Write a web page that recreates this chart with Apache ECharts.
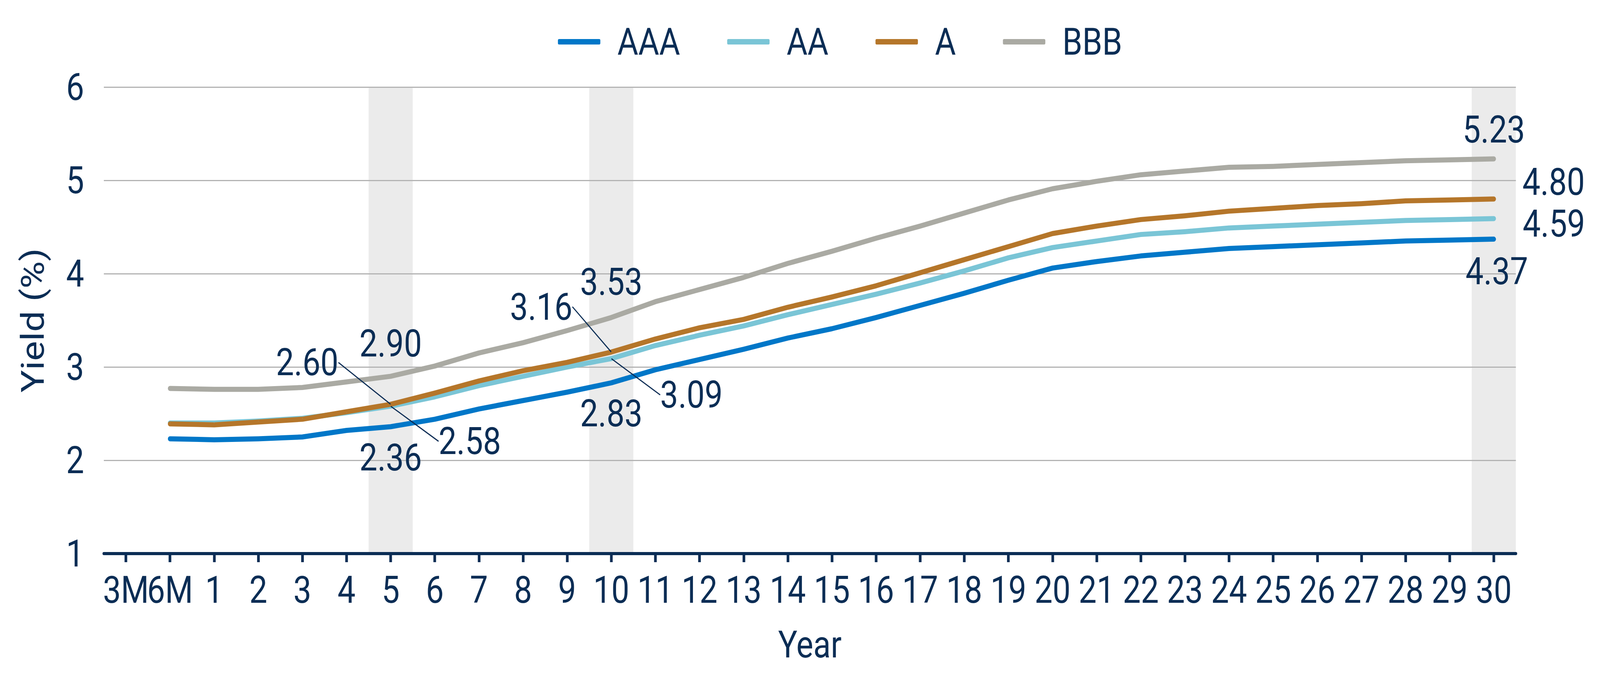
<!DOCTYPE html>
<html>
<head>
<meta charset="utf-8">
<script src="https://cdn.jsdelivr.net/npm/echarts@6/dist/echarts.min.js"></script>
<style>
html,body{margin:0;padding:0;background:#fff;overflow:hidden;}
#chart{width:4792px;height:1729px;transform-origin:0 0;}
</style>
</head>
<body>
<div id="chart"></div>
<script>
const categories = ['3M','6M','1','2','3','4','5','6','7','8','9','10','11','12','13','14','15','16','17','18','19','20','21','22','23','24','25','26','27','28','29','30'];
const seriesNames = ['AAA','AA','A','BBB'];
const aaa = [null,2.23,2.22,2.23,2.25,2.32,2.36,2.44,2.55,2.64,2.73,2.83,2.97,3.08,3.19,3.31,3.41,3.53,3.66,3.79,3.93,4.06,4.13,4.19,4.23,4.27,4.29,4.31,4.33,4.35,4.36,4.37];
const aa  = [null,2.40,2.40,2.42,2.45,2.51,2.58,2.68,2.80,2.90,3.00,3.09,3.23,3.34,3.44,3.56,3.67,3.78,3.90,4.03,4.17,4.28,4.35,4.42,4.45,4.49,4.51,4.53,4.55,4.57,4.58,4.59];
const a   = [null,2.39,2.38,2.41,2.44,2.52,2.60,2.72,2.85,2.96,3.05,3.16,3.30,3.42,3.51,3.64,3.75,3.87,4.01,4.15,4.29,4.43,4.51,4.58,4.62,4.67,4.70,4.73,4.75,4.78,4.79,4.80];
const bbb = [null,2.77,2.76,2.76,2.78,2.84,2.90,3.01,3.15,3.26,3.39,3.53,3.70,3.83,3.96,4.11,4.24,4.38,4.51,4.65,4.79,4.91,4.99,5.06,5.10,5.14,5.15,5.17,5.19,5.21,5.22,5.23];
const yTicks = [1,2,3,4,5,6];
const shadedCategories = ['5','10','30'];
const labelledCategories = ['5','10','30'];

const NAVY = '#0B2D55';
const FONT = 'Roboto';
const colors = {AAA:'#0077C8', AA:'#7AC5D6', A:'#B5762A', BBB:'#AAAAA3'};

const labelOffsets = {
  AAA: {'5':[0,79,false], '10':[0,79,false], '30':[9,83,false]},
  AA:  {'5':[237,90,true], '10':[240,93,true], '30':[180,13,false]},
  A:   {'5':[-250,-107,true], '10':[-210,-116,true], '30':[179,-44,false]},
  BBB: {'5':[0,-84,false], '10':[0,-91,false], '30':[0,-75,false]}
};

const values = {AAA:aaa, AA:aa, A:a, BBB:bbb};

function buildData(name){
  return values[name].map((v, i) => {
    const cat = categories[i];
    if (v !== null && labelledCategories.includes(cat)) {
      const off = labelOffsets[name][cat];
      return {value: v, label: {show: true}, labelLine: {show: off[2]}};
    }
    return {value: v};
  });
}

function lineSeries(name){
  return {
    name: name,
    type: 'line',
    data: buildData(name),
    color: colors[name],
    symbol: 'circle',
    symbolSize: 1,
    showSymbol: true,
    itemStyle: {color: colors[name]},
    lineStyle: {width: 13, color: colors[name], cap: 'round', join: 'round'},
    z: 3,
    label: {
      show: false,
      position: 'inside',
      color: NAVY,
      fontFamily: FONT,
      fontSize: 96,
      formatter: p => p.value.toFixed(2)
    },
    labelLine: {show: false, lineStyle: {color: NAVY, width: 3}},
    labelLayout: function(params){
      const cat = categories[params.dataIndex];
      const off = labelOffsets[name][cat];
      if (!off) return {};
      return {dx: off[0], dy: off[1]};
    },
    emphasis: {disabled: true},
    animation: false
  };
}

const bandData = categories.map(c => shadedCategories.includes(c) ? yTicks[yTicks.length-1] : null);

const option = {
  backgroundColor: '#ffffff',
  animation: false,
  textStyle: {fontFamily: FONT},
  legend: {
    data: seriesNames,
    left: 1666,
    top: 54,
    icon: 'roundRect',
    itemWidth: 127,
    itemHeight: 14,
    itemGap: 141,
    textStyle: {color: NAVY, fontFamily: FONT, fontSize: 96, padding: [0,0,0,46]}
  },
  grid: {left: 311, right: 252, top: 223, bottom: 311, outerBoundsMode: 'none'},
  xAxis: {
    type: 'category',
    data: categories,
    boundaryGap: true,
    name: 'Year',
    nameLocation: 'middle',
    nameGap: 185,
    nameTextStyle: {color: NAVY, fontFamily: FONT, fontSize: 96},
    axisLine: {show: true, lineStyle: {color: NAVY, width: 8}},
    axisTick: {show: true, alignWithLabel: true, length: 22, lineStyle: {color: NAVY, width: 8}},
    axisLabel: {color: NAVY, fontFamily: FONT, fontSize: 96, margin: 45, interval: 0},
    splitLine: {show: false}
  },
  yAxis: {
    type: 'value',
    min: yTicks[0],
    max: yTicks[yTicks.length-1],
    interval: 1,
    name: 'Yield (%)',
    nameLocation: 'middle',
    nameGap: 165,
    nameTextStyle: {color: NAVY, fontFamily: FONT, fontSize: 96},
    axisLine: {show: false},
    axisTick: {show: false},
    axisLabel: {color: NAVY, fontFamily: FONT, fontSize: 96, margin: 59},
    splitLine: {show: true, lineStyle: {color: '#B3B3B3', width: 3}}
  },
  series: [
    {
      name: 'shade',
      type: 'bar',
      data: bandData,
      barWidth: '100%',
      barCategoryGap: '0%',
      itemStyle: {color: '#EBEBEB'},
      z: -1,
      silent: true,
      emphasis: {disabled: true}
    },
    lineSeries('AAA'),
    lineSeries('AA'),
    lineSeries('A'),
    lineSeries('BBB')
  ]
};

const el = document.getElementById('chart');
const sx = window.innerWidth / 4792;
const sy = window.innerHeight / 1729;
el.style.transform = 'scale(' + sx + ',' + sy + ')';
const chart = echarts.init(el, null, {renderer: 'svg'});
chart.setOption(option);
</script>
</body>
</html>
